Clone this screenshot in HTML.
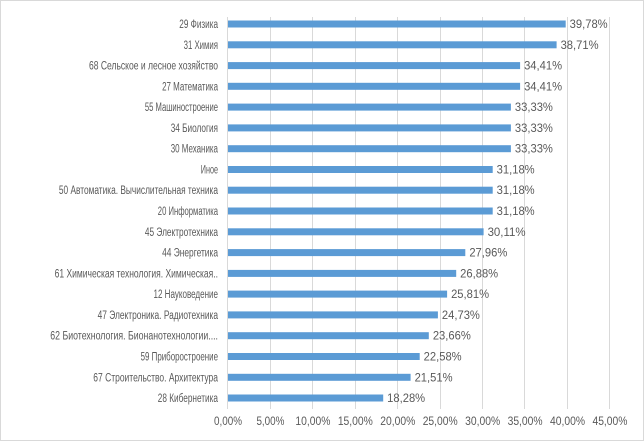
<!DOCTYPE html>
<html><head><meta charset="utf-8"><style>
html,body{margin:0;padding:0;background:#fff;}
svg{display:block;}
text{font-family:"Liberation Sans",sans-serif;font-size:11.5px;fill:#595959;}
</style></head><body>
<svg width="644" height="441" viewBox="0 0 644 441">
<rect x="0.5" y="0.5" width="643" height="440" fill="#fff" stroke="#d9d9d9"/>
<g stroke="#d9d9d9" stroke-width="1">
<line x1="270.5" y1="17" x2="270.5" y2="409"/>
<line x1="312.5" y1="17" x2="312.5" y2="409"/>
<line x1="355.5" y1="17" x2="355.5" y2="409"/>
<line x1="397.5" y1="17" x2="397.5" y2="409"/>
<line x1="440.5" y1="17" x2="440.5" y2="409"/>
<line x1="482.5" y1="17" x2="482.5" y2="409"/>
<line x1="524.5" y1="17" x2="524.5" y2="409"/>
<line x1="567.5" y1="17" x2="567.5" y2="409"/>
<line x1="609.5" y1="17" x2="609.5" y2="409"/>
<line x1="227.5" y1="17" x2="227.5" y2="409"/>
</g>
<g id="bars" fill="#5b9bd5"></g>
<g id="labs"></g>
<g id="ticks"></g>
</svg>
<script>
var d=[["29 Физика",39.78],["31 Химия",38.71],["68 Сельское и лесное хозяйство",34.41],["27 Математика",34.41],["55 Машиностроение",33.33],["34 Биология",33.33],["30 Механика",33.33],["Иное",31.18],["50 Автоматика. Вычислительная техника",31.18],["20 Информатика",31.18],["45 Электротехника",30.11],["44 Энергетика",27.96],["61 Химическая технология. Химическая..",26.88],["12 Науковедение",25.81],["47 Электроника. Радиотехника",24.73],["62 Биотехнология. Бионанотехнологии....",23.66],["59 Приборостроение",22.58],["67 Строительство. Архитектура",21.51],["28 Кибернетика",18.28]];
var ns="http://www.w3.org/2000/svg",x0=228,k=8.488;
var B=document.getElementById("bars"),L=document.getElementById("labs"),T=document.getElementById("ticks");
function t(x,y,s,a,p){var e=document.createElementNS(ns,"text");e.setAttribute("x",x);e.setAttribute("y",y);e.setAttribute("text-anchor",a);e.textContent=s;p.appendChild(e);return e;}
d.forEach(function(r,i){var cy=24+i*20.78;var w=r[1]*k;
var b=document.createElementNS(ns,"rect");b.setAttribute("x",x0);b.setAttribute("y",(cy-3.5).toFixed(1));b.setAttribute("width",w.toFixed(1));b.setAttribute("height",7);B.appendChild(b);
var e=t(218,cy+4,r[0],"end",L);var tl=e.getComputedTextLength();var target=r[0].length*4.3;if(tl>target){e.setAttribute("textLength",target.toFixed(1));e.setAttribute("lengthAdjust","spacingAndGlyphs");}
var v=t(x0+w+4,cy+4,r[1].toFixed(2).replace(".",",")+"%","start",L);v.setAttribute("textLength","38");v.setAttribute("lengthAdjust","spacingAndGlyphs");
});
for(var j=0;j<=9;j++){var e=t(x0+j*5*k,425,(j*5).toFixed(2).replace(".",",")+"%","middle",T);e.setAttribute("textLength",j<2?"28":"35");e.setAttribute("lengthAdjust","spacingAndGlyphs");}
</script>
</body></html>
